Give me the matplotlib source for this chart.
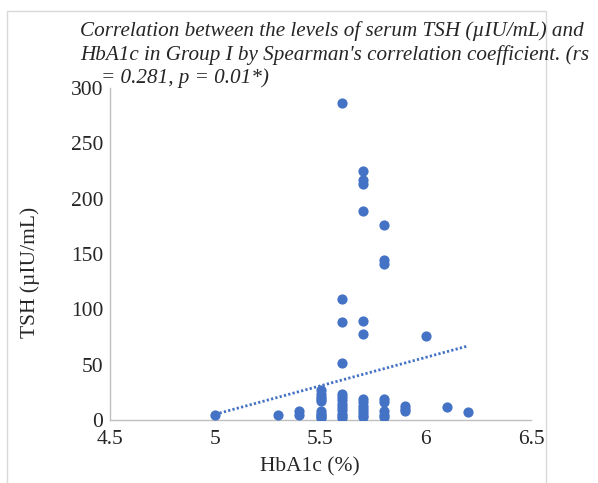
import numpy as np
import matplotlib.pyplot as plt
from matplotlib.patches import Rectangle

# ---------- data ----------
hba1c_levels = [5.0, 5.3, 5.4, 5.5, 5.6, 5.7, 5.8, 5.9, 6.0, 6.1, 6.2]
tsh_by_level = [
    [5],
    [5],
    [5, 8],
    [27, 24, 21, 19, 17, 8, 6, 5, 3, 2],
    [286, 109, 89, 52, 24, 21, 18, 15, 12, 9, 6, 4, 2],
    [225, 217, 213, 189, 90, 78, 19, 16, 13, 10, 7, 5, 3],
    [176, 145, 141, 19, 16, 8, 5, 3],
    [13, 10, 8],
    [76],
    [12],
    [7],
]

# linear trendline end points as drawn in the reference
trend_x = [5.0, 6.2]
trend_y = [5.4, 67.0]

hba1c = np.concatenate([[lv] * len(v) for lv, v in zip(hba1c_levels, tsh_by_level)])
tsh = np.concatenate(tsh_by_level)

title = ("Correlation between the levels of serum TSH (\u00b5IU/mL) and\n"
         "HbA1c in Group I by Spearman's correlation coefficient. (rs\n"
         "    = 0.281, p = 0.01*)")

blue = "#4472C4"
text_col = "#262626"
plt.rcParams["font.family"] = ["Liberation Serif", "DejaVu Serif"]

fig = plt.figure(figsize=(5.98, 4.83), dpi=100)
ax = fig.add_axes([0.184, 0.130, 0.704, 0.688])

ax.scatter(hba1c, tsh, s=54, color=blue, zorder=3, linewidths=0)
ax.plot(trend_x, trend_y, color=blue, lw=2.0, linestyle=(0, (0.8, 0.8)), zorder=2)

ax.set_xlim(4.5, 6.5)
ax.set_ylim(0, 300)
ax.set_xticks([4.5, 5, 5.5, 6, 6.5])
ax.set_xticklabels(["4.5", "5", "5.5", "6", "6.5"])
ax.set_yticks(range(0, 301, 50))

for side in ["top", "right"]:
    ax.spines[side].set_visible(False)
for side in ["left", "bottom"]:
    ax.spines[side].set_color("#bfbfbf")
    ax.spines[side].set_linewidth(1.0)
ax.tick_params(length=0, labelsize=15.5, colors=text_col)
ax.tick_params(axis="x", pad=7)
ax.tick_params(axis="y", pad=5)

ax.set_xlabel("HbA1c (%)", fontsize=15.5, color=text_col)
ax.set_ylabel("TSH (\u00b5IU/mL)", fontsize=15.5, color=text_col)
ax.xaxis.set_label_coords(0.475, -0.11)
ax.yaxis.set_label_coords(-0.19, 0.446)
ax.yaxis.label.set_va("center")

fig.text(80 / 598, 1 - 21 / 483, title, fontsize=15.25, style="italic",
         ha="left", va="top", color=text_col, linespacing=1.25)

# light chart-area border
fig.patches.append(Rectangle((7 / 598, -0.05), 539 / 598, 1.0 - 11 / 483 + 0.05,
                             transform=fig.transFigure, fill=False,
                             edgecolor="#d9d9d9", lw=1.0))

fig.savefig("out.png", dpi=100)
